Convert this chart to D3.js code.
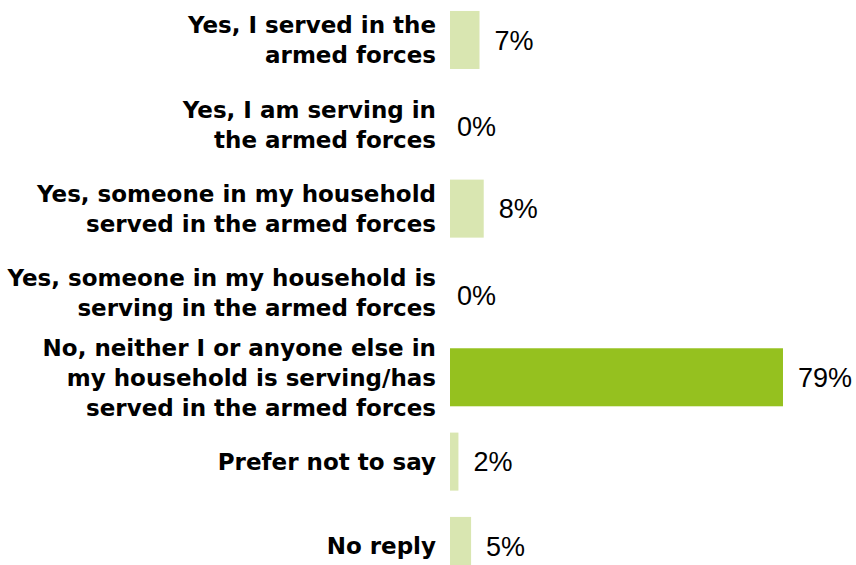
<!DOCTYPE html>
<html>
<head>
<meta charset="utf-8">
<script src="https://cdn.jsdelivr.net/npm/d3@7"></script>
<style>
  html, body { margin: 0; padding: 0; background: #fff; }
  svg { display: block; }
</style>
</head>
<body>
<svg id="chart" width="856" height="565"></svg>
<script>
// Survey answers (line breaks as in the printed labels)
const categories = [
  "Yes, I served in the\narmed forces",
  "Yes, I am serving in\nthe armed forces",
  "Yes, someone in my household\nserved in the armed forces",
  "Yes, someone in my household is\nserving in the armed forces",
  "No, neither I or anyone else in\nmy household is serving/has\nserved in the armed forces",
  "Prefer not to say",
  "No reply"
];
const values = [7, 0, 8, 0, 79, 2, 5];
const highlight = [false, false, false, false, true, false, false];

const colorMain = "#95c11f";
const colorLight = "#d9e6b1";

const svg = d3.select("#chart");
const barLeft = 450;

const x = d3.scaleLinear().domain([0, 100]).range([barLeft, barLeft + 421.5]);
const y = d3.scaleBand()
  .domain(d3.range(categories.length))
  .range([-2.2, 588.1])
  .paddingInner(0.312)
  .paddingOuter(0.156);

// bars
svg.append("g").selectAll("rect")
  .data(values)
  .join("rect")
  .attr("x", x(0))
  .attr("y", (d, i) => y(i))
  .attr("width", d => x(d) - x(0))
  .attr("height", y.bandwidth())
  .attr("fill", (d, i) => highlight[i] ? colorMain : colorLight);

// value labels
svg.append("g").selectAll("text")
  .data(values)
  .join("text")
  .attr("x", d => x(d) + (d > 0 ? 15 : 7))
  .attr("y", (d, i) => y(i) + y.bandwidth() / 2 + (d > 0 ? 0 : 2))
  .attr("dy", "0.36em")
  .attr("font-family", "'Liberation Sans', Arial, sans-serif")
  .attr("font-size", 27)
  .attr("fill", "#000")
  .text(d => d + "%");

// category labels, right aligned, centred on each bar
const lineH = 30;
const labels = svg.append("g")
  .attr("font-family", "'DejaVu Sans', sans-serif")
  .attr("font-weight", 700)
  .attr("font-size", 23)
  .attr("fill", "#000")
  .attr("text-anchor", "end");

categories.forEach((c, i) => {
  const lines = c.split("\n");
  const cy = y(i) + y.bandwidth() / 2;
  const t = labels.append("text")
    .attr("x", 436)
    .attr("y", cy - (lines.length - 1) * lineH / 2);
  lines.forEach((ln, k) => {
    t.append("tspan")
      .attr("x", 436)
      .attr("dy", k === 0 ? "0.36em" : lineH)
      .text(ln);
  });
});
</script>
</body>
</html>
